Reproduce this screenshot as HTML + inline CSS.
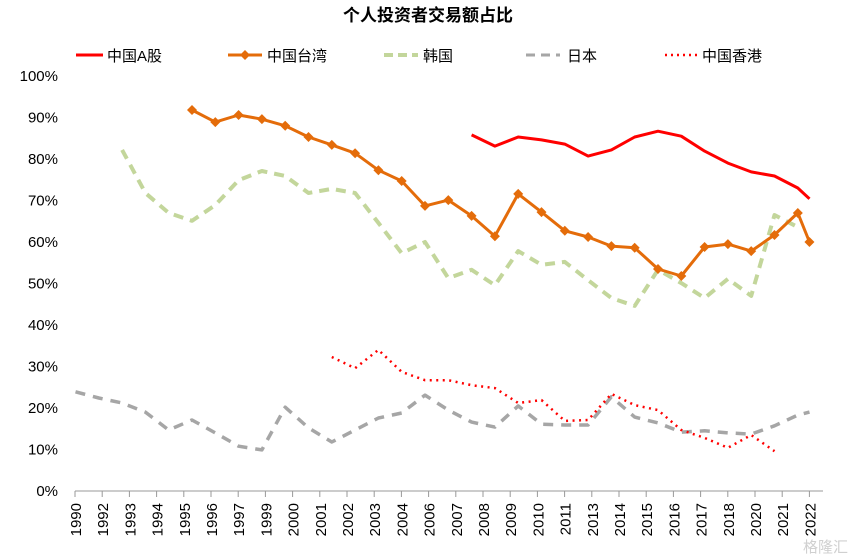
<!DOCTYPE html>
<html><head><meta charset="utf-8">
<style>
html,body{margin:0;padding:0;background:#fff;}
svg{display:block;font-family:"Liberation Sans","Noto Sans CJK SC",sans-serif;}
</style></head>
<body>
<svg id="chart" width="856" height="559" viewBox="0 0 856 559">
  <text x="428" y="21" text-anchor="middle" font-size="17" font-weight="bold" fill="#000">个人投资者交易额占比</text>
  <g font-size="15" fill="#000">
    <g>
      <line x1="76" y1="55" x2="103" y2="55" stroke="#ff0000" stroke-width="3"/>
      <text x="107" y="61">中国A股</text>
    </g>
    <g>
      <line x1="228" y1="55" x2="262" y2="55" stroke="#e46c0a" stroke-width="3"/>
      <path d="M245 50 L250 55 L245 60 L240 55 Z" fill="#e46c0a"/>
      <text x="267" y="61">中国台湾</text>
    </g>
    <g>
      <line x1="384" y1="55" x2="418" y2="55" stroke="#c3d69b" stroke-width="4" stroke-dasharray="9,5"/>
      <text x="423" y="61">韩国</text>
    </g>
    <g>
      <line x1="526" y1="55" x2="560" y2="55" stroke="#a6a6a6" stroke-width="3" stroke-dasharray="9,6"/>
      <text x="567" y="61">日本</text>
    </g>
    <g>
      <line x1="665" y1="55" x2="697" y2="55" stroke="#ff0000" stroke-width="2.5" stroke-dasharray="2,4"/>
      <text x="702" y="61">中国香港</text>
    </g>
  </g>
  <g id="yaxis"></g>
  <g id="xaxis"></g>
  <g id="series"></g>
  <text x="848" y="552" text-anchor="end" font-size="15" fill="#d0d0d0">格隆汇</text>
</svg>
<script>
const yTicks = [0,10,20,30,40,50,60,70,80,90,100];
const xTickLabels = ["1990","1992","1993","1994","1995","1996","1997","1999","2000","2001","2002","2003","2004","2006","2007","2008","2009","2010","2011","2013","2014","2015","2016","2017","2018","2020","2021","2022"];

const aShareYears = [2007,2008,2009,2010,2011,2012,2013,2014,2015,2016,2017,2018,2019,2020,2021,2021.5];
const aShareValues = [85.8,83.1,85.3,84.6,83.6,80.7,82.2,85.3,86.7,85.5,81.9,79.0,76.9,75.9,73.0,70.4];

const taiwanYears = [1995,1996,1997,1998,1999,2000,2001,2002,2003,2004,2005,2006,2007,2008,2009,2010,2011,2012,2013,2014,2015,2016,2017,2018,2019,2020,2021,2021.5];
const taiwanValues = [91.8,88.9,90.6,89.6,88.0,85.3,83.4,81.4,77.3,74.7,68.7,70.1,66.3,61.4,71.6,67.2,62.7,61.2,59.0,58.6,53.5,51.8,58.8,59.5,57.8,61.7,67.0,60.0];

const koreaYears = [1992,1993,1994,1995,1996,1997,1998,1999,2000,2001,2002,2003,2004,2005,2006,2007,2008,2009,2010,2011,2012,2013,2014,2015,2016,2017,2018,2019,2020,2021];
const koreaValues = [82.2,71.8,67.0,65.1,68.9,74.9,77.1,75.9,71.8,72.8,71.8,64.6,57.3,60.0,51.3,53.3,49.6,57.8,54.5,55.2,50.8,46.5,44.6,53.3,50.1,46.5,51.1,47.0,66.5,63.6];

const japanYears = [1990,1991,1992,1993,1994,1995,1996,1997,1998,1999,2000,2001,2002,2003,2004,2005,2006,2007,2008,2009,2010,2011,2012,2013,2014,2015,2016,2017,2018,2019,2020,2021,2021.5];
const japanValues = [23.9,22.4,21.2,19.0,14.7,17.1,14.0,10.8,9.9,20.2,15.2,11.8,14.7,17.6,18.8,23.1,19.5,16.6,15.4,20.5,16.1,15.9,15.9,22.7,17.8,16.4,14.2,14.5,14.0,13.7,15.7,18.3,19.0];

const hkYears = [2001,2002,2003,2004,2005,2006,2007,2008,2009,2010,2011,2012,2013,2014,2015,2016,2017,2018,2019,2020];
const hkValues = [32.3,29.6,34.0,28.7,26.7,26.7,25.5,24.8,21.2,21.9,16.9,17.1,23.4,20.7,19.5,14.7,12.8,10.4,13.5,9.6];

const NS = "http://www.w3.org/2000/svg";
const Y0 = 491, PXPER = 4.15;
function yScale(v){ return Y0 - v*PXPER; }
function xScale(t){ return 75.5 + (t-1990)*23.3; }
function tickX(i){ return 75 + i*27.2; }
function mk(tag, attrs, parent){
  const e = document.createElementNS(NS, tag);
  for (const k in attrs) e.setAttribute(k, attrs[k]);
  parent.appendChild(e);
  return e;
}
const yaxis = document.getElementById('yaxis');
yTicks.forEach(v=>{
  const t = mk('text',{x:58,y:yScale(v)+5,'text-anchor':'end','font-size':'15',fill:'#000'},yaxis);
  
  
  t.textContent = v + '%';
});
const xaxis = document.getElementById('xaxis');
const axl = mk('line',{x1:75,y1:Y0,x2:823,y2:Y0,stroke:'#999','stroke-width':1},xaxis);


xTickLabels.forEach((lab,i)=>{
  const x = tickX(i);
  const tk = mk('line',{x1:x,y1:Y0,x2:x,y2:Y0+6,stroke:'#999','stroke-width':1},xaxis);
  
  
  const t = mk('text',{x:0,y:0,'text-anchor':'end','font-size':'15',fill:'#000',transform:`translate(${x+6},${Y0+12}) rotate(-90)`},xaxis);
  
  
  t.textContent = lab;
});
const series = document.getElementById('series');
function line(years, vals, style, name){
  const d = years.map((t,i)=>(i?'L':'M')+xScale(t).toFixed(1)+' '+yScale(vals[i]).toFixed(1)).join(' ');
  const p = mk('path',Object.assign({d:d,fill:'none','stroke-linejoin':'round'},style),series);
  
  
  return p;
}
line(japanYears, japanValues, {stroke:'#a6a6a6','stroke-width':3.5,'stroke-dasharray':'10,8'}, 'series-japan');
line(koreaYears, koreaValues, {stroke:'#c3d69b','stroke-width':4,'stroke-dasharray':'10,7'}, 'series-korea');
line(hkYears, hkValues, {stroke:'#ff0000','stroke-width':2.5,'stroke-dasharray':'2,4.5','stroke-linecap':'butt'}, 'series-hongkong');
line(aShareYears, aShareValues, {stroke:'#ff0000','stroke-width':3}, 'series-a-share');
line(taiwanYears, taiwanValues, {stroke:'#e46c0a','stroke-width':3}, 'series-taiwan');
taiwanYears.forEach((t,i)=>{
  const x = xScale(t), y = yScale(taiwanValues[i]);
  const m = mk('path',{d:`M${x} ${y-5} L${x+5} ${y} L${x} ${y+5} L${x-5} ${y} Z`,fill:'#e46c0a'},series);
  
  
});
</script>
</body></html>
